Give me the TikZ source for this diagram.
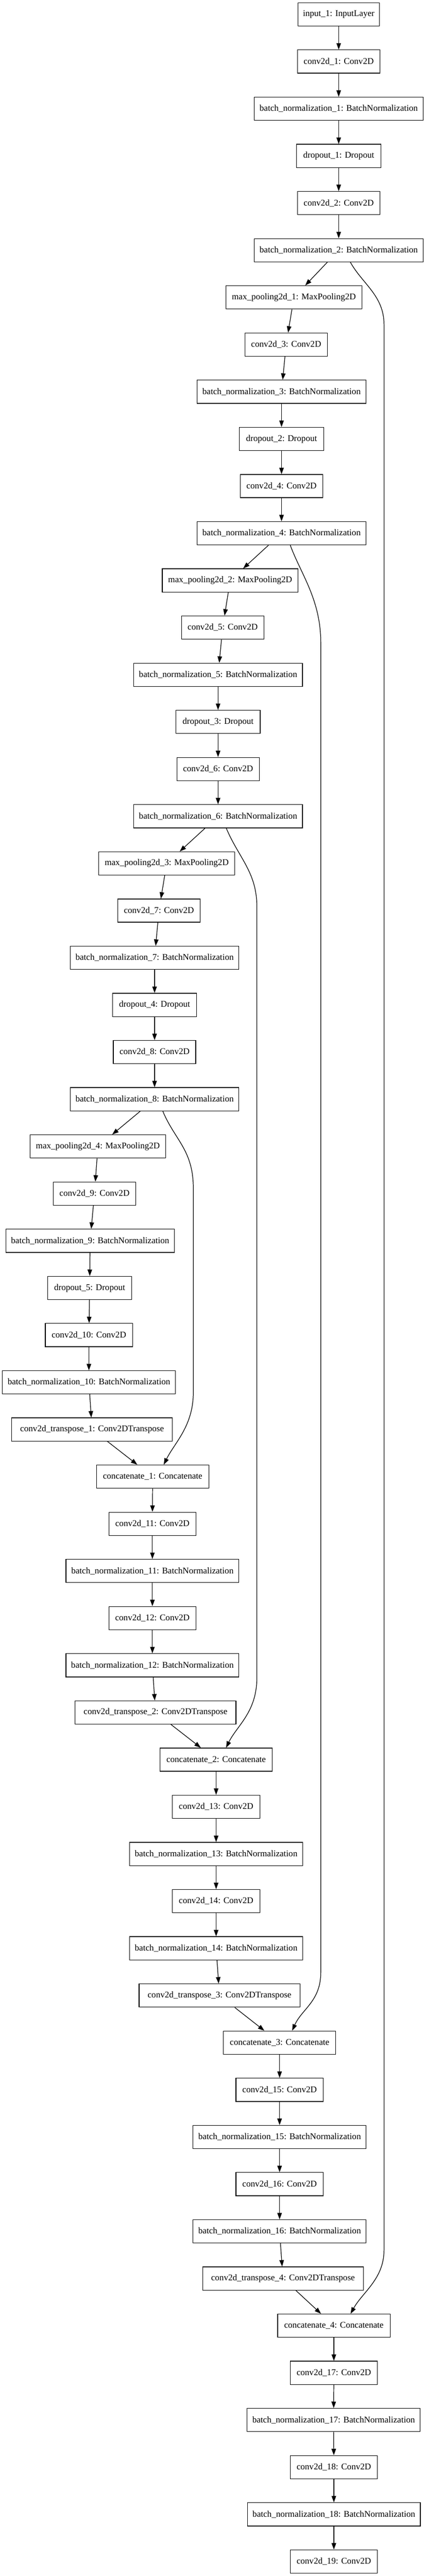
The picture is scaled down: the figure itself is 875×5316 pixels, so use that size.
\documentclass[tikz,border=0pt]{standalone}
\usepackage{fontspec}
\setmainfont{Liberation Serif}
\usetikzlibrary{arrows.meta}

\begin{document}
\begin{tikzpicture}[x=1pt, y=-1pt,
  every node/.style={font=\fontsize{18.2}{22}\selectfont},
  layer/.style={draw, line width=1.3pt, minimum height=48pt, inner xsep=2pt, inner ysep=0pt},
  inp/.style={layer, minimum width=168pt},
  conv/.style={layer, minimum width=170pt},
  convw/.style={layer, minimum width=180pt},
  bn/.style={layer, minimum width=348pt},
  bnw/.style={layer, minimum width=357pt},
  drop/.style={layer, minimum width=174pt},
  pool/.style={layer, minimum width=280pt},
  tconv/.style={layer, minimum width=332pt},
  cat/.style={layer, minimum width=232pt},
  link/.style={line width=1.3pt, -{Triangle[length=13.3pt, width=9.3pt]}}]

  \useasboundingbox (0,0) rectangle (875,5316);

  % Encoder
  \node [inp] (in) at (699,29.7) {input\_1: InputLayer};
  \node [conv] (c1) at (699,127.0) {conv2d\_1: Conv2D};
  \node [bn] (bn1) at (699,224.4) {batch\_normalization\_1: BatchNormalization};
  \node [drop] (dr1) at (699,321.7) {dropout\_1: Dropout};
  \node [conv] (c2) at (699,419.1) {conv2d\_2: Conv2D};
  \node [bn] (bn2) at (699,516.4) {batch\_normalization\_2: BatchNormalization};
  \node [pool] (mp1) at (606.5,613.7) {max\_pooling2d\_1: MaxPooling2D};
  \node [conv] (c3) at (590.5,711.1) {conv2d\_3: Conv2D};
  \node [bn] (bn3) at (581,808.4) {batch\_normalization\_3: BatchNormalization};
  \node [drop] (dr2) at (581,905.8) {dropout\_2: Dropout};
  \node [conv] (c4) at (581,1003.1) {conv2d\_4: Conv2D};
  \node [bn] (bn4) at (581,1100.4) {batch\_normalization\_4: BatchNormalization};
  \node [pool] (mp2) at (475,1197.8) {max\_pooling2d\_2: MaxPooling2D};
  \node [conv] (c5) at (459.5,1295.1) {conv2d\_5: Conv2D};
  \node [bn] (bn5) at (450,1392.5) {batch\_normalization\_5: BatchNormalization};
  \node [drop] (dr3) at (450,1489.8) {dropout\_3: Dropout};
  \node [conv] (c6) at (450,1587.1) {conv2d\_6: Conv2D};
  \node [bn] (bn6) at (450,1684.5) {batch\_normalization\_6: BatchNormalization};
  \node [pool] (mp3) at (344,1781.8) {max\_pooling2d\_3: MaxPooling2D};
  \node [conv] (c7) at (328,1879.2) {conv2d\_7: Conv2D};
  \node [bn] (bn7) at (319,1976.5) {batch\_normalization\_7: BatchNormalization};
  \node [drop] (dr4) at (319,2073.8) {dropout\_4: Dropout};
  \node [conv] (c8) at (319,2171.2) {conv2d\_8: Conv2D};
  \node [bn] (bn8) at (319,2268.5) {batch\_normalization\_8: BatchNormalization};
  \node [pool] (mp4) at (202,2365.9) {max\_pooling2d\_4: MaxPooling2D};
  \node [conv] (c9) at (195,2463.2) {conv2d\_9: Conv2D};
  \node [bn] (bn9) at (186,2560.5) {batch\_normalization\_9: BatchNormalization};
  \node [drop] (dr5) at (185,2657.9) {dropout\_5: Dropout};
  \node [convw] (c10) at (183.5,2755.2) {conv2d\_10: Conv2D};
  \node [bnw] (bn10) at (183.5,2852.6) {batch\_normalization\_10: BatchNormalization};

  % Decoder
  \node [tconv] (ct1) at (190,2949.9) {conv2d\_transpose\_1: Conv2DTranspose};
  \node [cat] (cc1) at (315,3047.2) {concatenate\_1: Concatenate};
  \node [convw] (c11) at (314.5,3144.6) {conv2d\_11: Conv2D};
  \node [bnw] (bn11) at (314.5,3241.9) {batch\_normalization\_11: BatchNormalization};
  \node [convw] (c12) at (314.5,3339.3) {conv2d\_12: Conv2D};
  \node [bnw] (bn12) at (314.5,3436.6) {batch\_normalization\_12: BatchNormalization};
  \node [tconv] (ct2) at (321,3533.9) {conv2d\_transpose\_2: Conv2DTranspose};
  \node [cat] (cc2) at (446,3631.3) {concatenate\_2: Concatenate};
  \node [convw] (c13) at (446,3728.6) {conv2d\_13: Conv2D};
  \node [bnw] (bn13) at (446,3826.0) {batch\_normalization\_13: BatchNormalization};
  \node [convw] (c14) at (446,3923.3) {conv2d\_14: Conv2D};
  \node [bnw] (bn14) at (446,4020.6) {batch\_normalization\_14: BatchNormalization};
  \node [tconv] (ct3) at (453,4118.0) {conv2d\_transpose\_3: Conv2DTranspose};
  \node [cat] (cc3) at (577,4215.3) {concatenate\_3: Concatenate};
  \node [convw] (c15) at (577,4312.7) {conv2d\_15: Conv2D};
  \node [bnw] (bn15) at (577,4410.0) {batch\_normalization\_15: BatchNormalization};
  \node [convw] (c16) at (577,4507.3) {conv2d\_16: Conv2D};
  \node [bnw] (bn16) at (577,4604.7) {batch\_normalization\_16: BatchNormalization};
  \node [tconv] (ct4) at (584,4702.0) {conv2d\_transpose\_4: Conv2DTranspose};
  \node [cat] (cc4) at (689,4799.4) {concatenate\_4: Concatenate};
  \node [convw] (c17) at (689,4896.7) {conv2d\_17: Conv2D};
  \node [bnw] (bn17) at (688.5,4994.0) {batch\_normalization\_17: BatchNormalization};
  \node [convw] (c18) at (689,5091.4) {conv2d\_18: Conv2D};
  \node [bnw] (bn18) at (689,5188.7) {batch\_normalization\_18: BatchNormalization};
  \node [convw] (c19) at (689,5286.1) {conv2d\_19: Conv2D};

  % Main chain
  \draw [link] (in) -- (c1);
  \draw [link] (c1) -- (bn1);
  \draw [link] (bn1) -- (dr1);
  \draw [link] (dr1) -- (c2);
  \draw [link] (c2) -- (bn2);
  \draw [link] (bn2) -- (mp1);
  \draw [link] (mp1) -- (c3);
  \draw [link] (c3) -- (bn3);
  \draw [link] (bn3) -- (dr2);
  \draw [link] (dr2) -- (c4);
  \draw [link] (c4) -- (bn4);
  \draw [link] (bn4) -- (mp2);
  \draw [link] (mp2) -- (c5);
  \draw [link] (c5) -- (bn5);
  \draw [link] (bn5) -- (dr3);
  \draw [link] (dr3) -- (c6);
  \draw [link] (c6) -- (bn6);
  \draw [link] (bn6) -- (mp3);
  \draw [link] (mp3) -- (c7);
  \draw [link] (c7) -- (bn7);
  \draw [link] (bn7) -- (dr4);
  \draw [link] (dr4) -- (c8);
  \draw [link] (c8) -- (bn8);
  \draw [link] (bn8) -- (mp4);
  \draw [link] (mp4) -- (c9);
  \draw [link] (c9) -- (bn9);
  \draw [link] (bn9) -- (dr5);
  \draw [link] (dr5) -- (c10);
  \draw [link] (c10) -- (bn10);
  \draw [link] (bn10) -- (ct1);
  \draw [link] (ct1) -- (cc1);
  \draw [link] (cc1) -- (c11);
  \draw [link] (c11) -- (bn11);
  \draw [link] (bn11) -- (c12);
  \draw [link] (c12) -- (bn12);
  \draw [link] (bn12) -- (ct2);
  \draw [link] (ct2) -- (cc2);
  \draw [link] (cc2) -- (c13);
  \draw [link] (c13) -- (bn13);
  \draw [link] (bn13) -- (c14);
  \draw [link] (c14) -- (bn14);
  \draw [link] (bn14) -- (ct3);
  \draw [link] (ct3) -- (cc3);
  \draw [link] (cc3) -- (c15);
  \draw [link] (c15) -- (bn15);
  \draw [link] (bn15) -- (c16);
  \draw [link] (c16) -- (bn16);
  \draw [link] (bn16) -- (ct4);
  \draw [link] (ct4) -- (cc4);
  \draw [link] (cc4) -- (c17);
  \draw [link] (c17) -- (bn17);
  \draw [link] (bn17) -- (c18);
  \draw [link] (c18) -- (bn18);
  \draw [link] (bn18) -- (c19);

  % Skip connections
  \draw [link] ([xshift=17pt]bn8.south) .. controls +(25,60) and +(0,-80) .. (399,2453)
    -- (399,2873) .. controls +(0,70) and +(22,-45) .. ([xshift=23pt]cc1.north); % bn8 to cc1
  \draw [link] ([xshift=17pt]bn6.south) .. controls +(25,60) and +(0,-70) .. (530,1870)
    -- (530,3463) .. controls +(0,70) and +(22,-45) .. ([xshift=20.6pt]cc2.north); % bn6 to cc2
  \draw [link] ([xshift=18pt]bn4.south) .. controls +(22,60) and +(0,-90) .. (662,1327)
    -- (662,4070) .. controls +(0,60) and +(20,-45) .. ([xshift=26pt]cc3.north); % bn4 to cc3
  \draw [link] ([xshift=24pt]bn2.south) .. controls +(25,45) and +(0,-60) .. (792.5,670)
    -- (792.5,4643) .. controls +(0,60) and +(25,-45) .. ([xshift=34.5pt]cc4.north); % bn2 to cc4
\end{tikzpicture}
\end{document}
